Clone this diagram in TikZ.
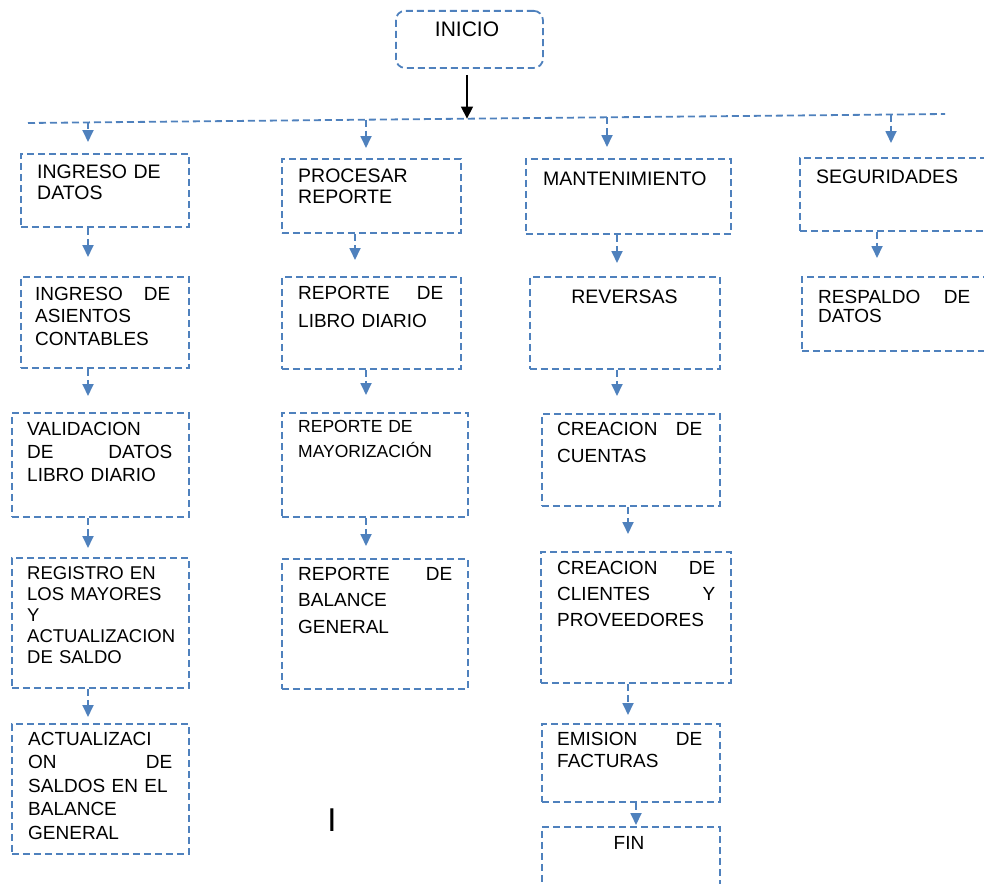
\documentclass[tikz,border=0pt]{standalone}
\usepackage{fontspec}
\setmainfont{Liberation Sans}
\usetikzlibrary{arrows.meta,calc}
\definecolor{bl}{RGB}{79,129,189}
\newcommand\fsz[2]{\fontsize{#1}{#2}\selectfont}
\begin{document}
\begin{tikzpicture}[x=1pt,y=-1pt,
  dsh/.style={draw=bl, line width=1.8pt, dash pattern=on 7pt off 4pt},
  box/.style={dsh, rectangle, inner sep=0pt, anchor=north west},
  txt/.style={inner sep=0pt, anchor=base west, align=left, text=black},
  ctxt/.style={inner sep=0pt, anchor=base, text=black},
  conn/.style={dsh, -{Triangle[length=12pt,width=11pt]}},
]
\useasboundingbox (0,0) rectangle (984,883);
\clip (0,0) rectangle (984,883);

% start
\node[box, rounded corners=9pt, minimum width=147pt, minimum height=57pt] (ini) at (395,10) {};
\node[ctxt, font=\fsz{21}{24}] (tini) at (467,37) {INICIO};

% distribution line
\coordinate (L1) at (28,123);
\coordinate (L2) at (945,114);
\draw[dsh] (L1) -- (L2);
\coordinate (top) at (467,118.6);
\draw[line width=1.4pt, -{Triangle[length=12pt,width=12pt]}] (ini.south -| top) ++(0,6) -- (top);

% column x coordinates
\coordinate (k1) at (88,0);
\coordinate (k2) at (366,0);
\coordinate (k2b) at (355,0);
\coordinate (k3) at (607,0);
\coordinate (k3b) at (617,0);
\coordinate (k3c) at (628,0);
\coordinate (k3d) at (636,0);
\coordinate (k4) at (891,0);
\coordinate (k4b) at (877,0);
\coordinate (j1) at (88,122.4);
\coordinate (j2) at (366,119.7);
\coordinate (j3) at (607,117.3);
\coordinate (j4) at (891,114.5);

% column 1
\node[box, minimum width=168pt, minimum height=73pt] (a1) at (20,153) {};
\node[txt, text width=130pt, font=\fsz{19.5}{21.5}] (ta1) at (37,178) {INGRESO DE\\DATOS};
\node[box, minimum width=168pt, minimum height=91pt] (a2) at (20,276) {};
\node[txt, text width=135pt, font=\fsz{19}{22.5}] (ta2) at (35,300) {INGRESO\hfill DE\\ASIENTOS\\CONTABLES};
\node[box, minimum width=177pt, minimum height=104pt] (a3) at (11,412) {};
\node[txt, text width=145pt, font=\fsz{19}{23}] (ta3) at (27,435) {VALIDACION\\DE\hfill DATOS\\LIBRO DIARIO};
\node[box, minimum width=177pt, minimum height=130pt] (a4) at (11,557) {};
\node[txt, text width=155pt, font=\fsz{18.5}{21}] (ta4) at (27,579) {REGISTRO EN\\LOS MAYORES\\Y\\ACTUALIZACION\\DE SALDO};
\node[box, minimum width=177pt, minimum height=130pt] (a5) at (11,723) {};
\node[txt, text width=144pt, font=\fsz{19}{23.5}] (ta5) at (28,745) {ACTUALIZACI\\ON\hfill DE\\SALDOS EN EL\\BALANCE\\GENERAL};

% column 2
\node[box, minimum width=179pt, minimum height=74pt] (b1) at (281,158) {};
\node[txt, text width=150pt, font=\fsz{19.5}{21.5}] (tb1) at (298,182) {PROCESAR\\REPORTE};
\node[box, minimum width=179pt, minimum height=92pt] (b2) at (281,276) {};
\node[txt, text width=145pt, font=\fsz{19}{28}] (tb2) at (298,299) {REPORTE\hfill DE\\LIBRO DIARIO};
\node[box, minimum width=186pt, minimum height=104pt] (b3) at (281,412) {};
\node[txt, text width=160pt, font=\fsz{17.5}{25}] (tb3) at (298,432) {REPORTE DE\\MAYORIZACIÓN};
\node[box, minimum width=186pt, minimum height=130pt] (b4) at (281,558) {};
\node[txt, text width=154pt, font=\fsz{19}{26.5}] (tb4) at (298,580) {REPORTE\hfill DE\\BALANCE\\GENERAL};

% column 3
\node[box, minimum width=205pt, minimum height=75pt] (c1) at (525,158) {};
\node[txt, font=\fsz{19.5}{22}] (tc1) at (543,185) {MANTENIMIENTO};
\node[box, minimum width=190pt, minimum height=92pt] (c2) at (529,276) {};
\node[ctxt, font=\fsz{19.5}{22}] (tc2) at (624.5,303) {REVERSAS};
\node[box, minimum width=178pt, minimum height=92pt] (c3) at (541,413) {};
\node[txt, text width=145pt, font=\fsz{19}{27}] (tc3) at (557,435) {CREACION\hfill DE\\CUENTAS};
\node[box, minimum width=190pt, minimum height=131pt] (c4) at (540,551) {};
\node[txt, text width=158pt, font=\fsz{19}{26}] (tc4) at (557,574) {CREACION\hfill DE\\CLIENTES\hfill Y\\PROVEEDORES};
\node[box, minimum width=178pt, minimum height=78pt] (c5) at (541,723) {};
\node[txt, text width=145pt, font=\fsz{19}{22}] (tc5) at (557,745) {EMISION\hfill DE\\FACTURAS};
\node[box, minimum width=178pt, minimum height=80pt] (c6) at (541,826) {};
\node[ctxt, font=\fsz{19}{22}] (tc6) at (629,849) {FIN};

% column 4
\node[box, minimum width=200pt, minimum height=73pt] (d1) at (799,157) {};
\node[txt, font=\fsz{19.5}{22}] (td1) at (816,183) {SEGURIDADES};
\node[box, minimum width=200pt, minimum height=74pt] (d2) at (801,276) {};
\node[txt, text width=152pt, font=\fsz{19}{19}] (td2) at (818,303) {RESPALDO\hfill DE\\DATOS};

% stray mark
\node[ctxt, font=\fsz{33}{36}] (cur) at (332,831) {I};

% branches from distribution line
\draw[conn] (j1) -- ($(a1.north -| k1)+(0,-11)$);
\draw[conn] (j2) -- ($(b1.north -| k2)+(0,-10)$);
\draw[conn] (j3) -- ($(c1.north -| k3)+(0,-11)$);
\draw[conn] (j4) -- ($(d1.north -| k4)+(0,-14)$);

% column connectors
\draw[conn] (a1.south -| k1) -- ($(a2.north -| k1)+(0,-19)$);
\draw[conn] (a2.south -| k1) -- ($(a3.north -| k1)+(0,-16)$);
\draw[conn] (a3.south -| k1) -- ($(a4.north -| k1)+(0,-9)$);
\draw[conn] (a4.south -| k1) -- ($(a5.north -| k1)+(0,-6)$);

\draw[conn] (b1.south -| k2b) -- ($(b2.north -| k2b)+(0,-16)$);
\draw[conn] (b2.south -| k2) -- ($(b3.north -| k2)+(0,-17)$);
\draw[conn] (b3.south -| k2) -- ($(b4.north -| k2)+(0,-12)$);

\draw[conn] (c1.south -| k3b) -- ($(c2.north -| k3b)+(0,-13)$);
\draw[conn] (c2.south -| k3b) -- ($(c3.north -| k3b)+(0,-17)$);
\draw[conn] (c3.south -| k3c) -- ($(c4.north -| k3c)+(0,-17)$);
\draw[conn] (c4.south -| k3c) -- ($(c5.north -| k3c)+(0,-8)$);
\draw[conn] (c5.south -| k3d) -- ($(c6.north -| k3d)+(0,-1)$);

\draw[conn] (d1.south -| k4b) -- ($(d2.north -| k4b)+(0,-18)$);
\end{tikzpicture}
\end{document}
